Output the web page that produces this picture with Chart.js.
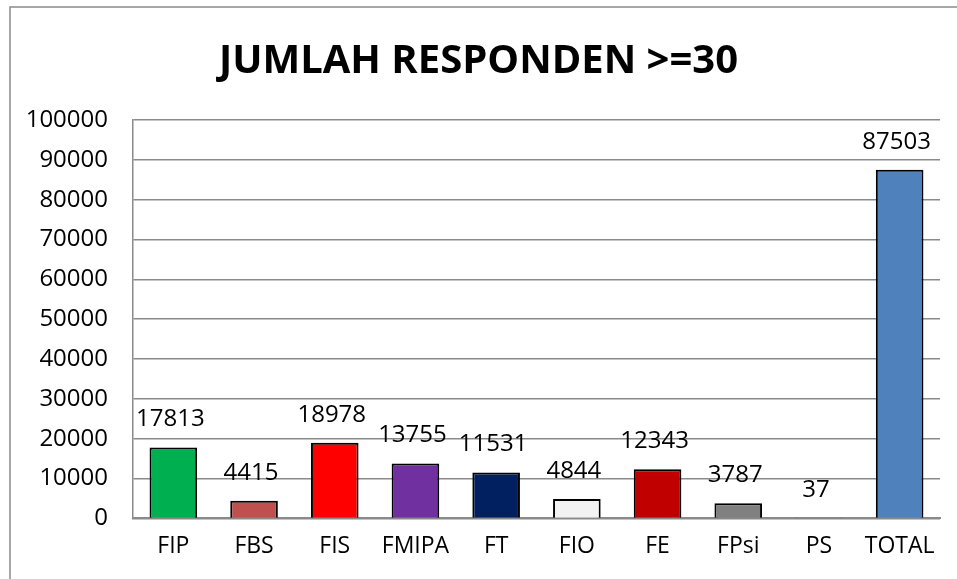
<!DOCTYPE html>
<html>
<head>
<meta charset="utf-8">
<script src="https://cdn.jsdelivr.net/npm/chart.js@4.4.1/dist/chart.umd.min.js"></script>
<style>
  html, body { margin: 0; padding: 0; background: #fff; }
  #wrap { width: 957px; height: 579px; }
</style>
</head>
<body>
<div id="wrap"><canvas id="chart"></canvas></div>
<script>
// data
var labels = ["FIP", "FBS", "FIS", "FMIPA", "FT", "FIO", "FE", "FPsi", "PS", "TOTAL"];
var values = [17813, 4415, 18978, 13755, 11531, 4844, 12343, 3787, 37, 87503];
var barColors = ["#00B050", "#C0504D", "#FF0000", "#7030A0", "#002060", "#F2F2F2", "#C00000", "#808080", "#A5A5A5", "#4F81BD"];
var yTicks = [0, 10000, 20000, 30000, 40000, 50000, 60000, 70000, 80000, 90000, 100000];

var FONT = "'Open Sans', 'Liberation Sans', sans-serif";

// frame round the picture (left and top edge only, like the original crop)
var framePlugin = {
    id: 'frame',
    beforeDraw: function(chart) {
        var c = chart.ctx;
        c.save();
        c.strokeStyle = '#8a8a8a';
        c.lineWidth = 1.5;
        c.beginPath();
        c.moveTo(10, chart.height);
        c.lineTo(10, 7);
        c.lineTo(chart.width, 7);
        c.stroke();
        c.restore();
    }
};

// value labels above the bars
var valueLabels = {
    id: 'valueLabels',
    afterDatasetsDraw: function(chart) {
        var c = chart.ctx;
        var meta = chart.getDatasetMeta(0);
        c.save();
        c.font = '24px ' + FONT;
        c.fillStyle = '#000';
        c.textAlign = 'center';
        c.textBaseline = 'middle';
        meta.data.forEach(function(bar, i) {
            c.fillText(String(values[i]), bar.x - 3, bar.y - 28);
        });
        c.restore();
    }
};

var ctx = document.getElementById('chart').getContext('2d');
var chart = new Chart(ctx, {
    type: 'bar',
    data: {
        labels: labels,
        datasets: [{
            data: values,
            backgroundColor: barColors,
            borderColor: '#000',
            borderWidth: 2,
            borderSkipped: 'bottom',
            barPercentage: 0.59,
            categoryPercentage: 1.0
        }]
    },
    options: {
        responsive: true,
        maintainAspectRatio: false,
        animation: false,
        layout: { padding: { left: 17, right: 17, top: 0, bottom: 5 } },
        plugins: {
            legend: { display: false },
            tooltip: { enabled: false },
            title: {
                display: true,
                text: 'JUMLAH RESPONDEN >=30',
                color: '#000',
                font: { family: FONT, size: 40, weight: 'bold' },
                padding: { top: 38, bottom: 34 }
            }
        },
        scales: {
            x: {
                grid: { display: false, drawTicks: false },
                border: { display: true, color: '#8a8a8a', width: 2 },
                ticks: {
                    color: '#000',
                    font: { family: FONT, size: 23 },
                    padding: 14,
                    maxRotation: 0,
                    autoSkip: false
                }
            },
            y: {
                min: 0,
                max: 100000,
                afterBuildTicks: function(axis) {
                    axis.ticks = yTicks.map(function(v) { return { value: v }; });
                },
                afterFit: function(axis) { axis.width = 116; },
                grid: { color: '#8a8a8a', lineWidth: 1.5, drawTicks: false },
                border: { display: true, color: '#8a8a8a', width: 1.5 },
                ticks: {
                    color: '#000',
                    font: { family: FONT, size: 24 },
                    padding: 25,
                    callback: function(v) { return String(v); }
                }
            }
        }
    },
    plugins: [framePlugin, valueLabels]
});
</script>
</body>
</html>
